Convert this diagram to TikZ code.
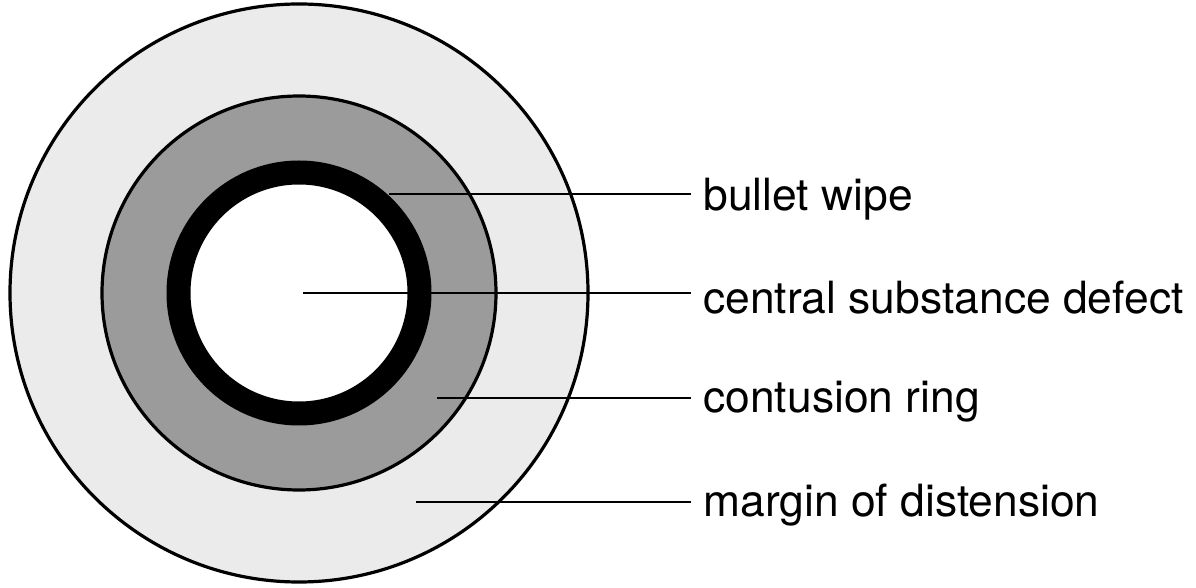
\documentclass[tikz,border=0pt]{standalone}
\usepackage{fontspec}
\setmainfont{TeX Gyre Heros}
\usetikzlibrary{positioning}
\definecolor{rim}{HTML}{EBEBEB}
\definecolor{bruise}{HTML}{9B9B9B}
\definecolor{ink}{HTML}{000000}

\begin{document}
\begin{tikzpicture}[x=.5pt,y=-.5pt,lbl/.style={font=\fontsize{22.2}{26}\selectfont,anchor=base west,inner xsep=6pt,inner ysep=0pt},lead/.style={ink,line width=1pt}]
\useasboundingbox (0,0) rectangle (1196,588);
\fill[white] (0,0) rectangle (1196,588);
\draw[ink,line width=1.6pt,fill=rim] (299,293) circle[radius=289];
\draw[ink,line width=1.6pt,fill=bruise] (299,293) circle[radius=197];
\draw[ink,line width=12pt,fill=white] (299,293) circle[radius=120.5];
\coordinate (wipeA) at (389,194);\coordinate (holeA) at (303,293);\coordinate (ringA) at (437,398);\coordinate (distA) at (416,502);
\node[lbl] (wipe) at (691,211){bullet wipe};
\node[lbl] (hole) at (691,314){central substance defect};
\node[lbl] (ring) at (691,413){contusion ring};
\node[lbl] (dist) at (691,517){margin of distension};
\draw[lead] (wipeA)--(wipeA-|wipe.west);\draw[lead] (holeA)--(holeA-|hole.west);\draw[lead] (ringA)--(ringA-|ring.west);\draw[lead] (distA)--(distA-|dist.west);
\end{tikzpicture}
\end{document}
